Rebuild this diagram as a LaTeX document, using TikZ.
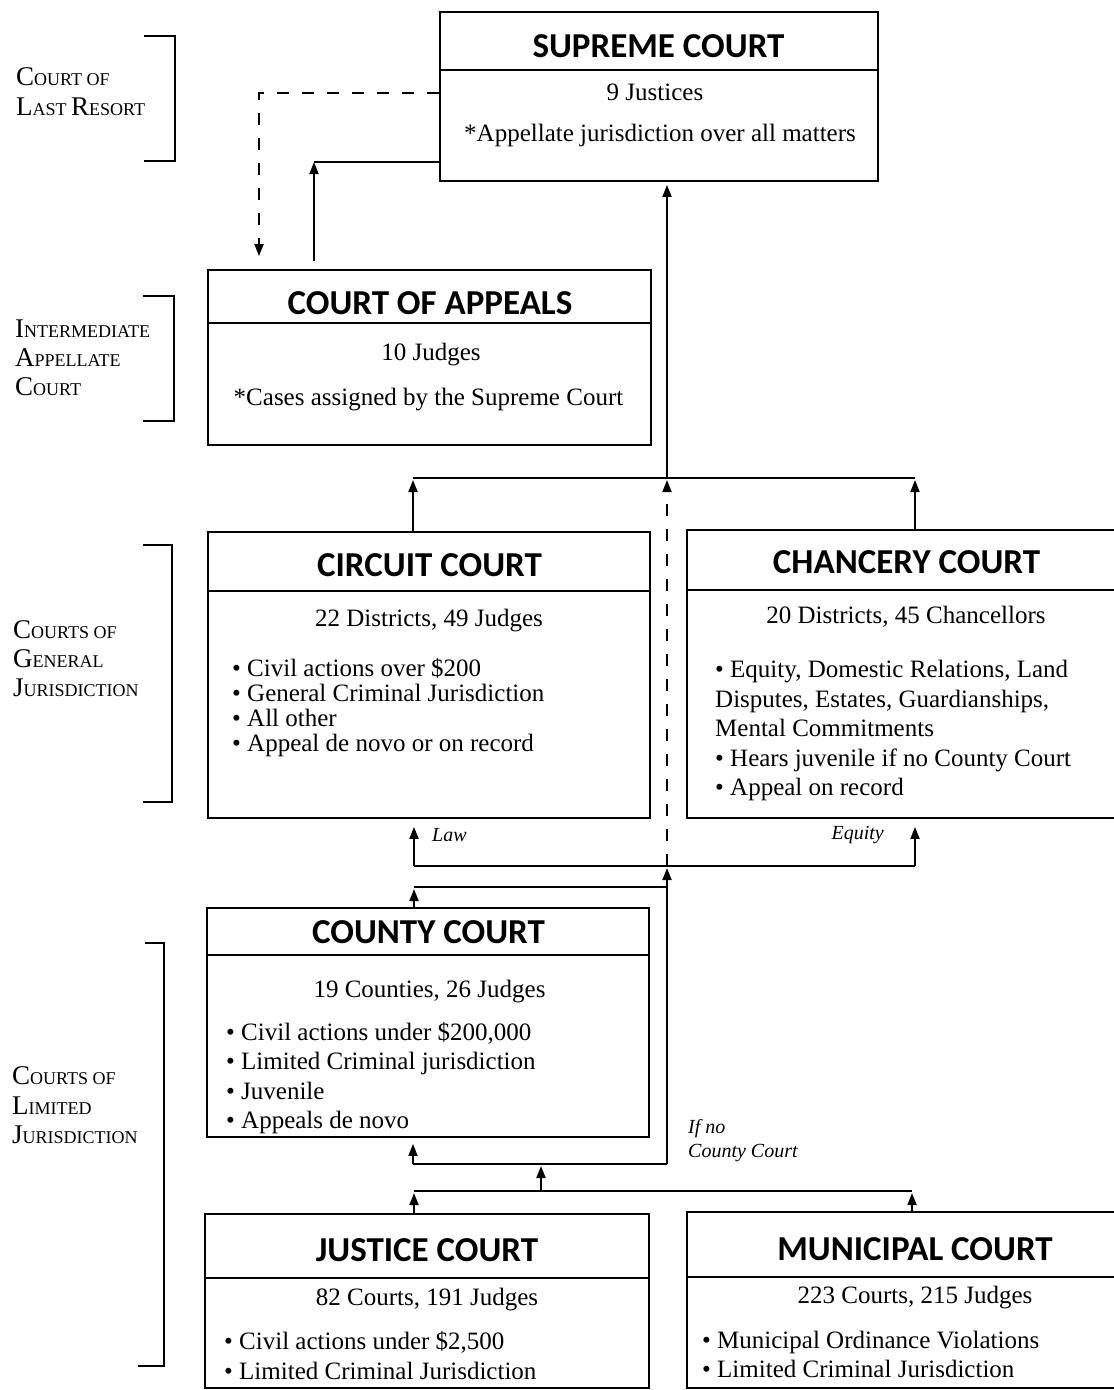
\documentclass[tikz,border=0pt]{standalone}
\usepackage{fontspec}
\setmainfont{Liberation Serif}
\newfontfamily\hfont{Carlito}
\usetikzlibrary{arrows.meta}
\newcommand\scl[2]{{\fontsize{27}{30}\selectfont #1}{\fontsize{18}{30}\selectfont #2}}
\begin{document}
\begin{tikzpicture}[x=1pt,y=-1pt,
  box/.style={draw, line width=1.8pt, inner sep=0pt},
  ttl/.style={font=\hfont\bfseries\fontsize{35}{40}\selectfont, inner sep=0pt, anchor=base},
  txt/.style={font=\fontsize{25}{28}\selectfont, inner sep=0pt, anchor=base},
  btxt/.style={txt, anchor=base west},
  lbl/.style={inner sep=0pt, anchor=base west},
  ital/.style={font=\itshape\fontsize{20}{24}\selectfont, inner sep=0pt, anchor=base west},
  conn/.style={line width=1.8pt},
  arr/.style={conn, -{Triangle[length=12pt,width=9pt]}},
  dline/.style={conn, dash pattern=on 12pt off 13pt}]
\useasboundingbox (0,0) rectangle (1114,1390);
\clip (0,0) rectangle (1114,1390);
\fill[white] (0,0) rectangle (1114,1390);

% ---- boxes
\node[box, minimum width=438pt, minimum height=169pt] (sup) at (659,96.5) {};
\node[box, minimum width=443pt, minimum height=175pt] (app) at (429.5,357.5) {};
\node[box, minimum width=442pt, minimum height=286pt] (cir) at (429,675) {};
\node[box, minimum width=435pt, minimum height=288pt] (cha) at (904.5,674) {};
\node[box, minimum width=442pt, minimum height=229pt] (cty) at (428,1022.5) {};
\node[box, minimum width=444pt, minimum height=174pt] (jus) at (427,1301) {};
\node[box, minimum width=435pt, minimum height=176pt] (mun) at (904.5,1300) {};

% dividers
\coordinate (dv1) at (0,70);
\coordinate (dv2) at (0,323);
\coordinate (dv3) at (0,591);
\coordinate (dv4) at (0,590);
\coordinate (dv5) at (0,955);
\coordinate (dv6) at (0,1278);
\coordinate (dv7) at (0,1277);
\draw[conn] (sup.west |- dv1) -- (sup.east |- dv1);
\draw[conn] (app.west |- dv2) -- (app.east |- dv2);
\draw[conn] (cir.west |- dv3) -- (cir.east |- dv3);
\draw[conn] (cha.west |- dv4) -- (cha.east |- dv4);
\draw[conn] (cty.west |- dv5) -- (cty.east |- dv5);
\draw[conn] (jus.west |- dv6) -- (jus.east |- dv6);
\draw[conn] (mun.west |- dv7) -- (mun.east |- dv7);

% ---- titles
\node[ttl] (tsup) at (658.5,57) {SUPREME COURT};
\node[ttl] (tapp) at (430,314) {COURT OF APPEALS};
\node[ttl] (tcir) at (429.5,576) {CIRCUIT COURT};
\node[ttl] (tcha) at (906.5,573) {CHANCERY COURT};
\node[ttl] (tcty) at (428.5,943) {COUNTY COURT};
\node[ttl] (tjus) at (427,1261) {JUSTICE COURT};
\node[ttl] (tmun) at (915,1260) {MUNICIPAL COURT};

% ---- body texts
\node[txt] (sup1) at (655,100) {9 Justices};
\node[txt] (sup2) at (660,141) {*Appellate jurisdiction over all matters};
\node[txt] (app1) at (431,360) {10 Judges};
\node[txt] (app2) at (428.5,405) {*Cases assigned by the Supreme Court};
\node[txt] (cir1) at (429,626) {22 Districts, 49 Judges};
\node[btxt] (cir2) at (232,676) {• Civil actions over \$200};
\node[btxt] (cir3) at (232,701) {• General Criminal Jurisdiction};
\node[btxt] (cir4) at (232,726) {• All other};
\node[btxt] (cir5) at (232,751) {• Appeal de novo or on record};
\node[txt] (cha1) at (906,623) {20 Districts, 45 Chancellors};
\node[btxt] (cha2) at (715,677) {• Equity, Domestic Relations, Land};
\node[btxt] (cha3) at (715,707) {Disputes, Estates, Guardianships,};
\node[btxt] (cha4) at (715,736) {Mental Commitments};
\node[btxt] (cha5) at (715,766) {• Hears juvenile if no County Court};
\node[btxt] (cha6) at (715,795) {• Appeal on record};
\node[txt] (cty1) at (429.5,997) {19 Counties, 26 Judges};
\node[btxt] (cty2) at (226,1040) {• Civil actions under \$200,000};
\node[btxt] (cty3) at (226,1069) {• Limited Criminal jurisdiction};
\node[btxt] (cty4) at (226,1099) {• Juvenile};
\node[btxt] (cty5) at (226,1128) {• Appeals de novo};
\node[txt] (jus1) at (427,1305) {82 Courts, 191 Judges};
\node[btxt] (jus2) at (224,1349) {• Civil actions under \$2,500};
\node[btxt] (jus3) at (224,1379) {• Limited Criminal Jurisdiction};
\node[txt] (mun1) at (915,1303) {223 Courts, 215 Judges};
\node[btxt] (mun2) at (702,1348) {• Municipal Ordinance Violations};
\node[btxt] (mun3) at (702,1377) {• Limited Criminal Jurisdiction};

% ---- left labels and brackets
\node[lbl] (l1a) at (16,85) {\scl{C}{OURT OF}};
\node[lbl] (l1b) at (16,115) {\scl{L}{AST }\scl{R}{ESORT}};
\node[lbl] (l2a) at (15,337) {\scl{I}{NTERMEDIATE}};
\node[lbl] (l2b) at (15,366) {\scl{A}{PPELLATE}};
\node[lbl] (l2c) at (15,395) {\scl{C}{OURT}};
\node[lbl] (l3a) at (13,638) {\scl{C}{OURTS OF}};
\node[lbl] (l3b) at (13,667) {\scl{G}{ENERAL}};
\node[lbl] (l3c) at (13,696) {\scl{J}{URISDICTION}};
\node[lbl] (l4a) at (12,1084) {\scl{C}{OURTS OF}};
\node[lbl] (l4b) at (12,1114) {\scl{L}{IMITED}};
\node[lbl] (l4c) at (12,1143) {\scl{J}{URISDICTION}};
\draw[conn] (144,36) -- (175,36) -- (175,161) -- (144,161);
\draw[conn] (143,296) -- (174,296) -- (174,421) -- (143,421);
\draw[conn] (143,545) -- (172,545) -- (172,802) -- (143,802);
\draw[conn] (145,943) -- (164,943) -- (164,1366) -- (138,1366);

% ---- connectors
\coordinate (d1) at (259,93);
\draw[dline, -{Triangle[length=12pt,width=9pt]}, shorten >=13pt] (sup.west |- d1) -- (d1) -- (app.north -| d1);
\coordinate (s1) at (314,162);
\draw[conn] (s1) -- (sup.west |- s1);
\draw[arr, shorten <=8pt] (app.north -| s1) -- (s1);

\coordinate (c1) at (667,478);
\coordinate (c2) at (667,866);
\coordinate (c4) at (667,1164);
\draw[arr, shorten >=3pt] (c1) -- (sup.south -| c1);
\coordinate (h1L) at (413,478);
\coordinate (h1R) at (915,478);
\draw[conn] (h1L) -- (h1R);
\draw[arr, shorten >=2pt] (cir.north -| h1L) -- (h1L);
\draw[arr, shorten >=2pt] (cha.north -| h1R) -- (h1R);
\draw[dline, -{Triangle[length=12pt,width=9pt]}, shorten >=2pt] (c2) -- (c1);

\coordinate (h2L) at (414,866);
\coordinate (h2R) at (915,866);
\draw[conn] (h2L) -- (h2R);
\draw[arr, shorten >=8pt] (h2L) -- (cir.south -| h2L);
\draw[arr, shorten >=8pt] (h2R) -- (cha.south -| h2R);
\node[ital] (law) at (432,841) {Law};
\node[ital, anchor=base east] (equ) at (884,839) {Equity};

\coordinate (h3L) at (414,887);
\draw[conn] (h3L) -- (h3L -| c1);
\draw[arr, shorten >=2pt] (cty.north -| h3L) -- (h3L);
\draw[arr, shorten >=2pt] (c4) -- (c2);

\coordinate (h4L) at (413,1164);
\draw[conn] (h4L) -- (c4);
\draw[arr, shorten >=6pt] (h4L) -- (cty.south -| h4L);

\coordinate (h5L) at (414,1191);
\coordinate (h5M) at (541,1191);
\coordinate (h5R) at (912,1191);
\draw[conn] (h5L) -- (h5R);
\draw[arr, shorten >=2pt] (h5M) -- (h5M |- c4);
\draw[arr, shorten >=2pt] (jus.north -| h5L) -- (h5L);
\draw[arr, shorten >=2pt] (mun.north -| h5R) -- (h5R);
\node[ital] (ifno1) at (688,1133) {If no};
\node[ital] (ifno2) at (688,1157) {County Court};
\end{tikzpicture}
\end{document}
